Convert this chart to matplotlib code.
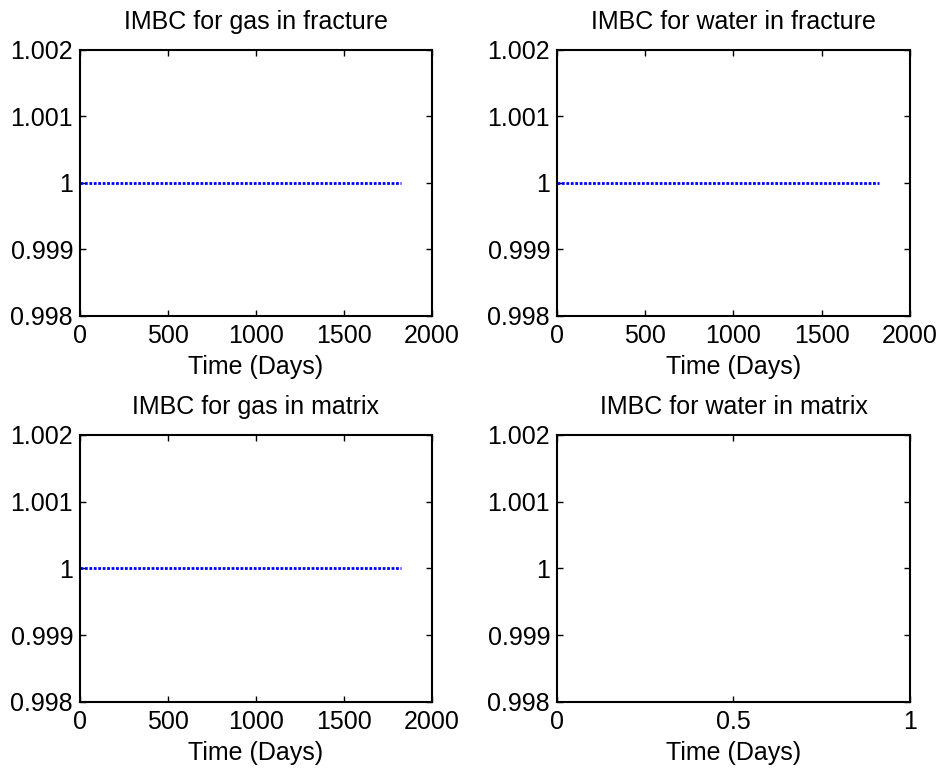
import numpy as np
import matplotlib.pyplot as plt

plt.rcParams['font.family'] = ['Liberation Sans', 'DejaVu Sans']
plt.rcParams['font.size'] = 18

# IMBC (incremental material balance check) results
time_days = [1, 1825]
imbc_gas_frac = [1.0, 1.0]
imbc_water_frac = [1.0, 1.0]
imbc_gas_matrix = [1.0, 1.0]
imbc_water_matrix = []   # no water in matrix -> empty plot
time_water_matrix = []

titles = ['IMBC for gas in fracture', 'IMBC for water in fracture',
          'IMBC for gas in matrix', 'IMBC for water in matrix']
series = [(time_days, imbc_gas_frac), (time_days, imbc_water_frac),
          (time_days, imbc_gas_matrix), (time_water_matrix, imbc_water_matrix)]

fig = plt.figure(figsize=(9.41, 7.72), dpi=100)
rects = [[0.0850, 0.5907, 0.3741, 0.3446],
         [0.5919, 0.5907, 0.3751, 0.3446],
         [0.0850, 0.0907, 0.3741, 0.3459],
         [0.5919, 0.0907, 0.3751, 0.3459]]

for i, (rect, title, (t, y)) in enumerate(zip(rects, titles, series)):
    ax = fig.add_axes(rect)
    ax.plot(t, y, color='b', linestyle=(0, (1, 0.6)), linewidth=2)
    ax.set_ylim(0.998, 1.002)
    ax.set_yticks([0.998, 0.999, 1.0, 1.001, 1.002])
    ax.set_yticklabels(['0.998', '0.999', '1', '1.001', '1.002'])
    if i < 3:
        ax.set_xlim(0, 2000)
        ax.set_xticks([0, 500, 1000, 1500, 2000])
    else:
        ax.set_xlim(0, 1)
        ax.set_xticks([0, 0.5, 1])
        ax.set_xticklabels(['0', '0.5', '1'])
    ax.set_title(title, fontsize=18, pad=15)
    ax.set_xlabel('Time (Days)', labelpad=5)
    ax.tick_params(axis='x', direction='in', length=4, width=1, top=True, pad=6)
    ax.tick_params(axis='y', direction='in', length=4, width=1, right=True, pad=5)
    for s in ax.spines.values():
        s.set_linewidth(1.5)

fig.savefig('out.png', dpi=100)
